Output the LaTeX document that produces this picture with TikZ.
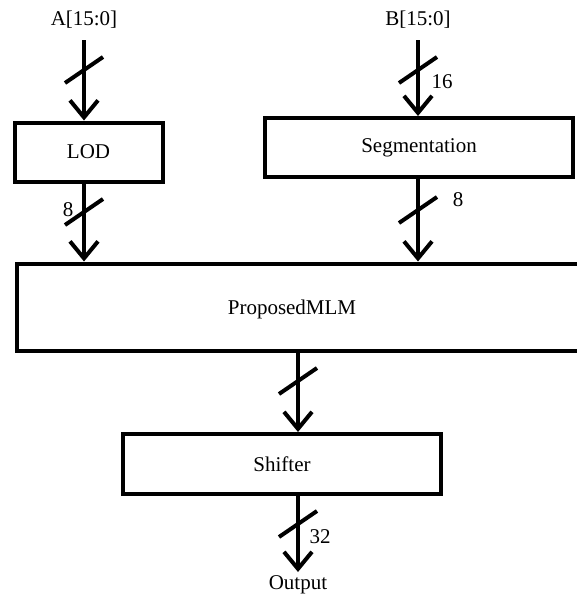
\documentclass[tikz,border=0pt]{standalone}
\usepackage{fontspec}
\setmainfont{Liberation Serif}
\usetikzlibrary{arrows.meta,calc}
\begin{document}
\begin{tikzpicture}[x=1pt,y=-1pt,
  every node/.style={font=\fontsize{21}{25}\selectfont, inner sep=0pt},
  box/.style={draw, line width=4pt, rectangle},
  bus/.style={line width=4pt, -{Straight Barb[length=17pt,width=28pt,line width=4pt]}},
  slash/.style={line width=4pt}]
\useasboundingbox (0,0) rectangle (577,598);
% boxes
\node[box, minimum width=148pt, minimum height=59pt] (lod) at (88.5,152) {LOD};
\node[box, minimum width=308pt, minimum height=59pt] (seg) at (419,147.5) {Segmentation};
\node[box, minimum width=600pt, minimum height=87pt, anchor=west] (mlm) at (15,307) {};
\node (mlmtxt) at (292,309) {ProposedMLM};
\node[box, minimum width=318pt, minimum height=60pt] (sh) at (282,464) {Shifter};
% labels
\node (a) at (84,20) {A[15:0]};
\node (b) at (418,20) {B[15:0]};
\node (out) at (298,585) {Output};
\coordinate (ain) at (84,40);
\coordinate (bin) at (418,40);
\coordinate (oend) at (298,572);
% connectors
\draw[bus] (ain) -- (ain |- lod.north);
\draw[bus] (bin) -- (bin |- seg.north);
\draw[bus] (lod.south -| ain) -- (ain |- mlm.north);
\draw[bus] (seg.south -| bin) -- (bin |- mlm.north);
\draw[bus] (oend |- mlm.south) -- (oend |- sh.north);
\draw[bus] (oend |- sh.south) -- (oend);
% slashes
\foreach \x/\y in {84/70, 84/212, 418/70, 418/210, 298/381, 298/524}
  \draw[slash] ($(\x,\y)+(-19,13)$) -- ($(\x,\y)+(19,-13)$);
% widths
\node (w1) at (68,210) {8};
\node (w2) at (442,82) {16};
\node (w3) at (458,200) {8};
\node (w4) at (320,537) {32};
\end{tikzpicture}
\end{document}
